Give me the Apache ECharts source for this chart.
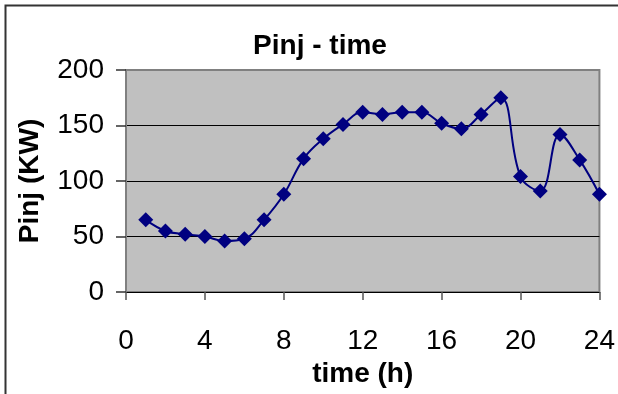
<!DOCTYPE html>
<html>
<head>
<meta charset="utf-8">
<script src="https://cdn.jsdelivr.net/npm/echarts@6/dist/echarts.min.js"></script>
<style>
  html, body { margin: 0; padding: 0; background: #fff; }
  #chart { width: 618px; height: 394px; }
</style>
</head>
<body>
<div id="chart"></div>
<script>
// Injected power over the day, one reading per hour
const hours = [1, 2, 3, 4, 5, 6, 7, 8, 9, 10, 11, 12, 13, 14, 15, 16, 17, 18, 19, 20, 21, 22, 23, 24];
const pinj = [65, 55, 52, 50, 46, 48, 65, 88, 120, 138, 151, 162, 160, 162, 162, 152, 147, 160, 175, 104, 91, 142, 119, 88];
const xTicks = [0, 4, 8, 12, 16, 20, 24];
const yTicks = [0, 50, 100, 150, 200];

const FONT = '"Liberation Sans", Arial, sans-serif';

const chart = echarts.init(document.getElementById('chart'), null, { renderer: 'canvas' });

chart.setOption({
  animation: false,
  backgroundColor: '#ffffff',
  title: {
    text: 'Pinj - time',
    left: 315,
    top: 27,
    textAlign: 'center',
    textStyle: { fontFamily: FONT, fontSize: 28, fontWeight: 'bold', color: '#000' }
  },
  graphic: [
    {
      type: 'polyline',
      shape: { points: [[5.5, 400], [5.5, 5.5], [630, 5.5]] },
      style: { stroke: '#333', lineWidth: 2, fill: null },
      z: 10
    }
  ],
  grid: {
    left: 126,
    right: 16,
    top: 70,
    bottom: 102,
    show: true,
    backgroundColor: '#c0c0c0',
    borderColor: '#808080',
    borderWidth: 2
  },
  xAxis: {
    type: 'value',
    min: xTicks[0],
    max: xTicks[xTicks.length - 1],
    interval: xTicks[1] - xTicks[0],
    name: 'time (h)',
    nameLocation: 'middle',
    nameGap: 66,
    nameTextStyle: { fontFamily: FONT, fontSize: 28, fontWeight: 'bold', color: '#000' },
    axisLine: { show: true, onZero: false, lineStyle: { color: '#000', width: 1 } },
    axisTick: { show: true, inside: false, length: 8, lineStyle: { color: '#555', width: 1.5 } },
    axisLabel: { margin: 35, fontFamily: FONT, fontSize: 28, color: '#000' },
    splitLine: { show: false }
  },
  yAxis: {
    type: 'value',
    min: yTicks[0],
    max: yTicks[yTicks.length - 1],
    interval: yTicks[1] - yTicks[0],
    name: 'Pinj (KW)',
    nameLocation: 'middle',
    nameGap: 82,
    nameRotate: 90,
    nameTextStyle: { fontFamily: FONT, fontSize: 28, fontWeight: 'bold', color: '#000' },
    axisLine: { show: true, lineStyle: { color: '#808080', width: 2 } },
    axisTick: { show: true, inside: false, length: 10, lineStyle: { color: '#333', width: 1.5 } },
    axisLabel: { margin: 22, padding: [5, 0, 0, 0], fontFamily: FONT, fontSize: 28, color: '#000' },
    splitLine: { show: true, lineStyle: { color: ['#000', '#000', '#000', '#000', '#808080'], width: 1 } }
  },
  series: [
    {
      type: 'line',
      data: hours.map((h, i) => [h, pinj[i]]),
      smooth: 0.4,
      symbol: 'diamond',
      symbolSize: 15,
      lineStyle: { color: '#000080', width: 2 },
      itemStyle: { color: '#000080' },
      z: 3
    }
  ]
});
</script>
</body>
</html>
